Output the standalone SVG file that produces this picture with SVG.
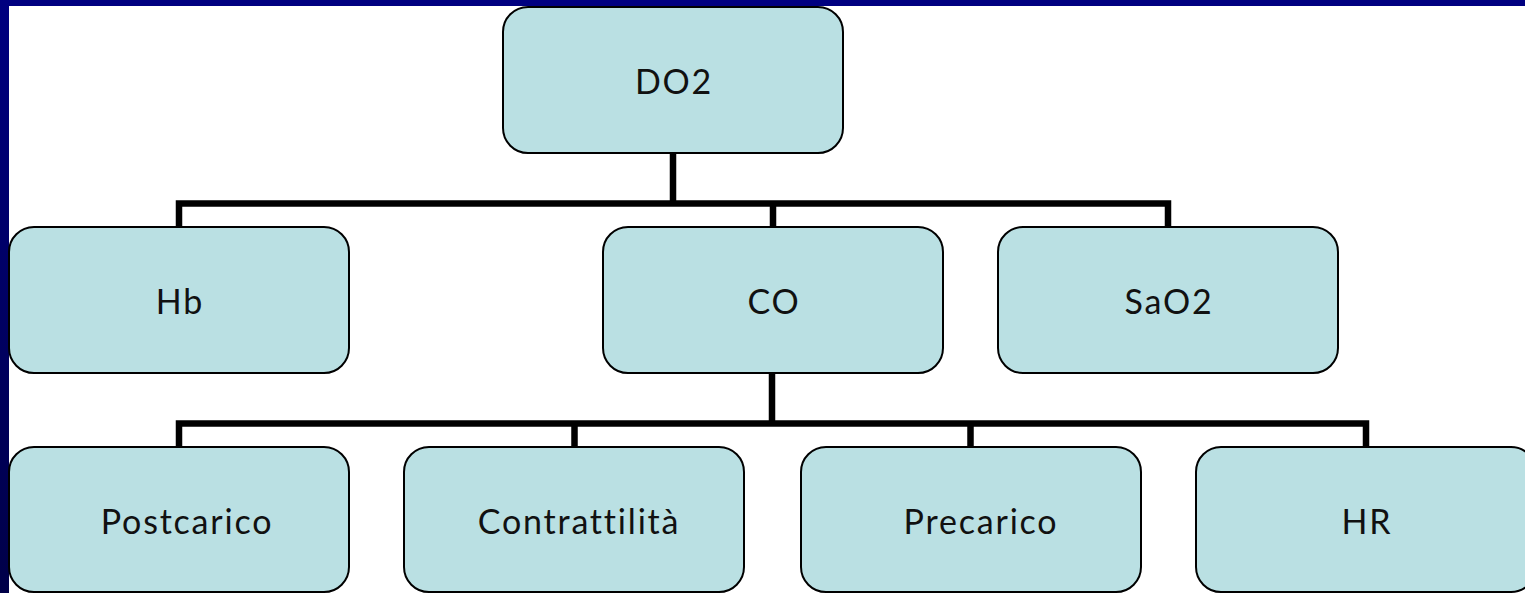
<svg xmlns="http://www.w3.org/2000/svg" width="1525" height="593" viewBox="0 0 1525 593">
<style>
.box{fill:#bae0e3;stroke:#000;stroke-width:2}
.lbl{font-family:"Lato","Liberation Sans",sans-serif;font-size:34px;letter-spacing:1.8px;font-variant-ligatures:none;font-feature-settings:"liga" 0;fill:#111;text-anchor:middle;dominant-baseline:central}
.conn{fill:none;stroke:#000;stroke-width:6.5;stroke-linecap:butt;stroke-linejoin:miter}
</style>
<defs>
<linearGradient id="side" x1="0" y1="0" x2="0" y2="1">
<stop offset="0" stop-color="#000080"/>
<stop offset="1" stop-color="#000048"/>
</linearGradient>
</defs>
<rect x="0" y="0" width="1525" height="593" fill="#fff"/>
<rect x="0" y="0" width="1525" height="6" fill="#000080"/>
<rect x="0" y="0" width="9" height="593" fill="url(#side)"/>
<g id="connectors">
<path class="conn" d="M673 153 V203.5 M179 227 V203.5 H1168 V227 M773 203.5 V227"/>
<path class="conn" d="M772 373 V423.5 M179 447 V423.5 H1366 V447 M574.5 423.5 V447 M970.5 423.5 V447"/>
</g>
<g id="DO2"><rect class="box" x="503" y="7" width="340" height="146" rx="25"/><text class="lbl" x="674" y="80">DO2</text></g>
<g id="Hb"><rect class="box" x="9" y="227" width="340" height="146" rx="25"/><text class="lbl" x="180" y="300">Hb</text></g>
<g id="CO"><rect class="box" x="603" y="227" width="340" height="146" rx="25"/><text class="lbl" x="774" y="300">CO</text></g>
<g id="SaO2"><rect class="box" x="998" y="227" width="340" height="146" rx="25"/><text class="lbl" x="1169" y="300">SaO2</text></g>
<g id="Postcarico"><rect class="box" x="9" y="447" width="340" height="145" rx="25"/><text class="lbl" x="187" y="520">Postcarico</text></g>
<g id="Contrattilita"><rect class="box" x="404" y="447" width="340" height="145" rx="25"/><text class="lbl" x="579" y="520">Contrattilità</text></g>
<g id="Precarico"><rect class="box" x="801" y="447" width="340" height="145" rx="25"/><text class="lbl" x="981" y="520">Precarico</text></g>
<g id="HR"><rect class="box" x="1196" y="447" width="340" height="145" rx="25"/><text class="lbl" x="1367" y="520">HR</text></g>
</svg>
